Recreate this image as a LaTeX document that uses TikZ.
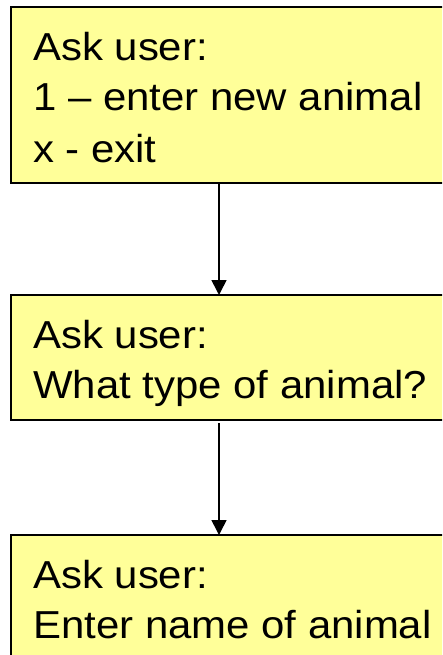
\documentclass[tikz,border=0pt]{standalone}
\usepackage{fontspec}
\setmainfont{Liberation Sans}[FakeStretch=1.075]
\usetikzlibrary{arrows.meta}
\tikzset{
  box/.style={draw=black, line width=2pt, fill=boxyellow, anchor=north west, minimum width=460pt, inner sep=0pt, outer sep=0pt},
  txt/.style={anchor=base west, inner sep=0pt, font=\fontsize{39pt}{51pt}\selectfont},
  conn/.style={draw=black, line width=1.6pt, -{Triangle[width=15pt,length=15pt]}}
}
\definecolor{boxyellow}{HTML}{FFFF99}
\begin{document}
\begin{tikzpicture}[x=1pt,y=-1pt]
\useasboundingbox (0,0) rectangle (442,655);
\clip (0,0) rectangle (442,655);
\node[box, minimum height=176pt] (b1) at (11,7) {};
\node[box, minimum height=125pt] (b2) at (11,295) {};
\node[box, minimum height=140pt] (b3) at (11,535) {};
\node[txt] (t1a) at (33,61) {Ask user:};
\node[txt] (t1b) at (33,111) {1 – enter new animal};
\node[txt] (t1c) at (33,163) {x - exit};
\node[txt] (t2a) at (33,348) {Ask user:};
\node[txt] (t2b) at (33,398) {What type of animal?};
\node[txt] (t3a) at (33,588) {Ask user:};
\node[txt] (t3b) at (33,638) {Enter name of animal};
\coordinate (a1s) at (219,183);
\coordinate (a1e) at (219,295);
\coordinate (a2s) at (219,423);
\coordinate (a2e) at (219,535);
\draw[conn] (a1s) -- (a1e);
\draw[conn] (a2s) -- (a2e);
\end{tikzpicture}
\end{document}
